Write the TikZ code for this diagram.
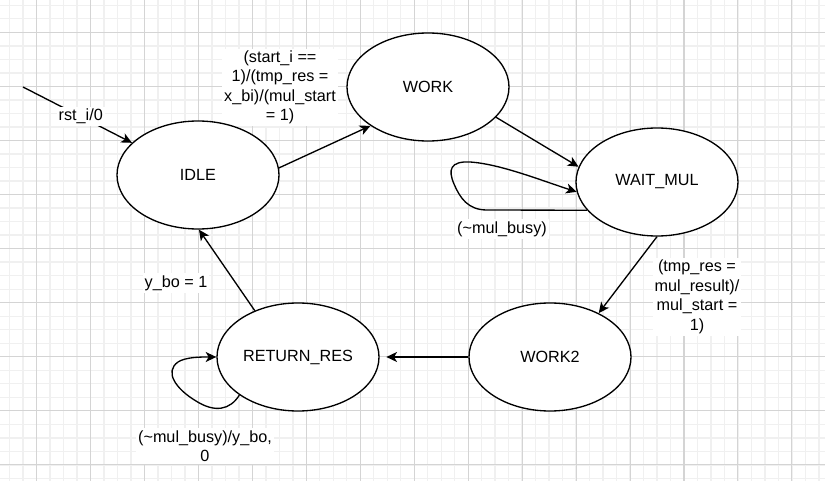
\documentclass[tikz,border=0pt]{standalone}
\usepackage{fontspec}
\setmainfont{Liberation Sans}
\usetikzlibrary{arrows.meta}
\usetikzlibrary{shapes.geometric}

\tikzset{
    state/.style={draw, ellipse, line width=1pt, fill=white, inner sep=0pt,
        minimum width=121.5pt, minimum height=81pt},
    edge/.style={draw, line width=1pt, -{Stealth[length=8pt, width=7.5pt, inset=2.2pt]}},
    lbl/.style={fill=white, inner sep=1.5pt, align=center},
    minorline/.style={draw=black!6, line width=1pt},
    majorline/.style={draw=black!17, line width=0.8pt}
}

\begin{document}
\begin{tikzpicture}[x=0.75pt, y=-0.75pt,
        font=\fontsize{12.15}{14.6}\selectfont]
    % Background and grid
    \fill[white] (0,0) rectangle (825,481);
    \useasboundingbox (0,0) rectangle (825,481);
    \foreach \i in {0,...,60}
        \draw[minorline] ({9.6+13.4875*\i},0) -- ++(0,481);
    \foreach \j in {0,...,35}
        \draw[minorline] (0,{5.3+13.5175*\j}) -- ++(825,0);
    \foreach \i in {0,...,14}
        \draw[majorline] ({36.6+53.95*\i},0) -- ++(0,481);
    \foreach \j in {0,...,8}
        \draw[majorline] (0,{32.3+54.07*\j}) -- ++(825,0);

    % Labels
    \node[lbl] (lwork) at (280,87.5)
        {(start\_i ==\\1)/(tmp\_res =\\x\_bi)/(mul\_start\\= 1)};
    \node[lbl] (lwait) at (502,229) {(\textasciitilde mul\_busy)};
    \node[lbl] (lwork2) at (697,297)
        {(tmp\_res =\\mul\_result)/\\mul\_start =\\1)};
    \node[lbl] (lidle) at (176,283) {y\_bo = 1};
    \node[lbl] (lret) at (205,446) {(\textasciitilde mul\_busy)/y\_bo,\\0};

    % States
    \node[state] (idle) at (198,175) {IDLE};
    \node[state] (work) at (428,87) {WORK};
    \node[state] (wait) at (657,182) {WAIT\_MUL};
    \node[state] (work2) at (550,357) {WORK2};
    \node[state] (ret) at (298,357) {RETURN\_RES};

    % Reset
    \coordinate (rst) at (23,87);
    \draw[edge] (rst) -- node[lbl, pos=0.53] {rst\_i/0} (idle.154);

    % Transitions
    \draw[edge] (idle.5) -- (work.214);
    \draw[edge] (work.-24) -- (wait.169);
    \draw[edge] (wait.202) -- (487,210)
        .. controls (468,210) and (460,198) .. (454,184)
        .. controls (448,170) and (450,161) .. (470,162)
        .. controls (500,164) and (540,180) .. (wait.187);
    \draw[edge] (wait.270) -- (work2.42);
    \draw[edge, shorten >=5pt] (work2.west) -- (ret.east);
    \draw[edge] (ret.213)
        .. controls (230,410) and (215,413) .. (196,401)
        .. controls (176,389) and (164,372) .. (178,362)
        .. controls (186,357) and (200,357) .. (ret.west);
    \draw[edge] (ret.133) -- (idle.271);
\end{tikzpicture}
\end{document}
